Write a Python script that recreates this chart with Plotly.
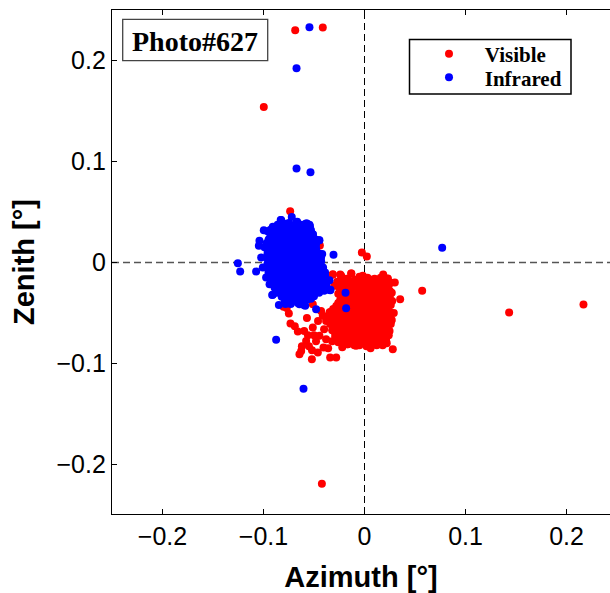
import plotly.graph_objects as go

# ---------------- data (degrees) ----------------
# Visible: dense core block
visible_core_x = [
    -0.024, -0.013, -0.005, 0.003, 0.010, 0.016, 0.023,
    -0.027, -0.021, -0.015, -0.009, -0.003, 0.003, 0.009, 0.015, 0.021, 0.026,
    -0.025, -0.019, -0.013, -0.007, -0.001, 0.005, 0.011, 0.017, 0.023,
    -0.026, -0.020, -0.014, -0.008, -0.002, 0.004, 0.010, 0.016, 0.022, 0.027,
    -0.024, -0.018, -0.012, -0.006, 0.000, 0.006, 0.012, 0.018, 0.024,
    -0.028, -0.022, -0.016, -0.010, -0.004, 0.002, 0.008, 0.014, 0.020, 0.026,
    -0.034, -0.029, -0.023, -0.017, -0.011, -0.005, 0.001, 0.007, 0.013, 0.019, 0.025,
    -0.037, -0.031, -0.025, -0.019, -0.013, -0.007, -0.001, 0.005, 0.011, 0.017, 0.023, 0.027,
    -0.034, -0.028, -0.022, -0.016, -0.010, -0.004, 0.002, 0.008, 0.014, 0.020, 0.026,
    -0.032, -0.026, -0.020, -0.014, -0.008, -0.002, 0.004, 0.010, 0.016, 0.022,
    -0.029, -0.023, -0.017, -0.011, -0.005, 0.001, 0.007, 0.013, 0.019, 0.024,
    -0.026, -0.020, -0.014, -0.008, -0.002, 0.004, 0.010, 0.016, 0.022,
    -0.022, -0.010, 0.002, 0.012,
]
visible_core_y = [
    -0.012, -0.011, -0.014, -0.015, -0.016, -0.015, -0.016,
    -0.019, -0.020, -0.018, -0.021, -0.019, -0.020, -0.018, -0.021, -0.019, -0.020,
    -0.025, -0.024, -0.026, -0.025, -0.023, -0.026, -0.024, -0.025, -0.026,
    -0.031, -0.030, -0.032, -0.031, -0.029, -0.032, -0.030, -0.031, -0.032, -0.030,
    -0.037, -0.036, -0.038, -0.037, -0.035, -0.038, -0.036, -0.037, -0.038,
    -0.043, -0.042, -0.044, -0.043, -0.041, -0.044, -0.042, -0.043, -0.044, -0.042,
    -0.049, -0.048, -0.050, -0.049, -0.047, -0.050, -0.048, -0.049, -0.050, -0.048, -0.049,
    -0.055, -0.054, -0.056, -0.055, -0.053, -0.056, -0.054, -0.055, -0.056, -0.054, -0.055, -0.057,
    -0.061, -0.060, -0.062, -0.061, -0.059, -0.062, -0.060, -0.061, -0.062, -0.060, -0.061,
    -0.067, -0.066, -0.068, -0.067, -0.065, -0.068, -0.066, -0.067, -0.068, -0.066,
    -0.073, -0.072, -0.074, -0.073, -0.071, -0.074, -0.072, -0.073, -0.074, -0.072,
    -0.079, -0.078, -0.080, -0.079, -0.077, -0.080, -0.078, -0.079, -0.080,
    -0.084, -0.082, -0.083, -0.082,
]
# Visible: points between the core rows
visible_fill_x = [
    -0.018, -0.009, -0.001, 0.007, 0.013, 0.020,
    -0.024, -0.018, -0.012, -0.006, 0.000, 0.006, 0.012, 0.018, 0.024,
    -0.022, -0.016, -0.010, -0.004, 0.002, 0.008, 0.014, 0.020, 0.025,
    -0.023, -0.017, -0.011, -0.005, 0.001, 0.007, 0.013, 0.019, 0.025,
    -0.026, -0.020, -0.014, -0.008, -0.002, 0.004, 0.010, 0.016, 0.022,
    -0.031, -0.025, -0.019, -0.013, -0.007, -0.001, 0.005, 0.011, 0.017, 0.023,
    -0.034, -0.028, -0.022, -0.016, -0.010, -0.004, 0.002, 0.008, 0.014, 0.020, 0.025,
    -0.034, -0.028, -0.022, -0.016, -0.010, -0.004, 0.002, 0.008, 0.014, 0.020, 0.025,
    -0.031, -0.025, -0.019, -0.013, -0.007, -0.001, 0.005, 0.011, 0.017, 0.023,
    -0.029, -0.023, -0.017, -0.011, -0.005, 0.001, 0.007, 0.013, 0.019,
    -0.026, -0.020, -0.014, -0.008, -0.002, 0.004, 0.010, 0.016, 0.021,
    -0.017, -0.005, 0.007, 0.018,
]
visible_fill_y = [
    -0.016, -0.017, -0.016, -0.017, -0.018, -0.017,
    -0.022, -0.023, -0.022, -0.021, -0.022, -0.023, -0.022, -0.023, -0.022,
    -0.028, -0.027, -0.028, -0.029, -0.028, -0.027, -0.028, -0.029, -0.028,
    -0.034, -0.035, -0.034, -0.033, -0.034, -0.035, -0.034, -0.033, -0.034,
    -0.040, -0.039, -0.040, -0.041, -0.040, -0.039, -0.040, -0.041, -0.040,
    -0.046, -0.047, -0.046, -0.045, -0.046, -0.047, -0.046, -0.045, -0.046, -0.047,
    -0.052, -0.051, -0.052, -0.053, -0.052, -0.051, -0.052, -0.053, -0.052, -0.051, -0.052,
    -0.058, -0.059, -0.058, -0.057, -0.058, -0.059, -0.058, -0.057, -0.058, -0.059, -0.058,
    -0.064, -0.063, -0.064, -0.065, -0.064, -0.063, -0.064, -0.065, -0.064, -0.063,
    -0.070, -0.071, -0.070, -0.069, -0.070, -0.071, -0.070, -0.069, -0.070,
    -0.076, -0.075, -0.076, -0.077, -0.076, -0.075, -0.076, -0.077, -0.076,
    -0.081, -0.082, -0.081, -0.082,
]
# Visible: ragged edge of the block
visible_edge_x = [0.0248, 0.0264, 0.0274, 0.0215, 0.0132, -0.0083, -0.0165,
                  -0.0231, -0.0132, -0.0017, 0.0290, 0.0060, -0.0300, 0.0185]
visible_edge_y = [-0.0677, -0.0578, -0.0380, -0.0776, -0.0809, -0.0825, -0.0809,
                  -0.0132, -0.0109, -0.0132, -0.0500, -0.0850, -0.0230, -0.0120]
# Visible: lower-left tail
visible_tail_x = [
    -0.0644, -0.0521, -0.0627, -0.0578, -0.0597, -0.0660, -0.0733, -0.0749,
    -0.0802, -0.0462, -0.0340, -0.0280, -0.0406, -0.0446, -0.0512, -0.0413,
    -0.0347, -0.0512, -0.0314, -0.0550, -0.0480, -0.0380, -0.0400, -0.0460,
    -0.0380, -0.0560, -0.0620, -0.0520, -0.0360, -0.0320, -0.0430, -0.0570,
    -0.0500, -0.0690, -0.0770, -0.0314, -0.0230,
]
visible_tail_y = [
    -0.0908, -0.0957, -0.0875, -0.0776, -0.0677, -0.0683, -0.0604, -0.0505,
    -0.0439, -0.0891, -0.0941, -0.0941, -0.0842, -0.0726, -0.0644, -0.0528,
    -0.0495, -0.0413, -0.0116, -0.0830, -0.0780, -0.0760, -0.0660, -0.0580,
    -0.0580, -0.0720, -0.0830, -0.0870, -0.0850, -0.0780, -0.0480, -0.0550,
    -0.0720, -0.0630, -0.0450, -0.0122, -0.0148,
]
# Visible: isolated points
visible_out_x = [-0.0686, -0.0413, -0.0997, -0.0736, -0.0442, -0.0026, 0.0023,
                 0.0571, 0.0353, 0.1432, 0.2168, -0.0422, 0.0280, 0.0300, 0.0230]
visible_out_y = [0.2300, 0.2327, 0.1540, 0.0508, 0.0168, 0.0099, 0.0059,
                 -0.0280, -0.0363, -0.0495, -0.0416, -0.2191, -0.0858, -0.0198, -0.0158]

# Infrared: dense core
infrared_core_x = [
    -0.083, -0.075, -0.067, -0.058,
    -0.089, -0.083, -0.077, -0.071, -0.065, -0.060, -0.054,
    -0.096, -0.090, -0.085, -0.079, -0.073, -0.068, -0.062, -0.056, -0.051,
    -0.094, -0.088, -0.082, -0.077, -0.071, -0.065, -0.059, -0.054, -0.049,
    -0.097, -0.091, -0.086, -0.080, -0.074, -0.069, -0.063, -0.057, -0.051, -0.045,
    -0.099, -0.093, -0.088, -0.082, -0.076, -0.071, -0.065, -0.059, -0.054, -0.048,
    -0.096, -0.090, -0.084, -0.079, -0.073, -0.067, -0.062, -0.056, -0.050, -0.045,
    -0.097, -0.092, -0.086, -0.080, -0.075, -0.069, -0.063, -0.058, -0.052, -0.047, -0.043,
    -0.096, -0.090, -0.084, -0.078, -0.072, -0.066, -0.061, -0.055, -0.049, -0.044,
    -0.097, -0.091, -0.086, -0.080, -0.074, -0.069, -0.063, -0.057, -0.052, -0.046, -0.041,
    -0.095, -0.089, -0.083, -0.077, -0.072, -0.066, -0.060, -0.054, -0.048, -0.043, -0.039,
    -0.094, -0.088, -0.082, -0.076, -0.070, -0.064, -0.058, -0.053, -0.047, -0.041, -0.036,
    -0.091, -0.085, -0.079, -0.073, -0.067, -0.061, -0.055, -0.050, -0.044, -0.038,
    -0.089, -0.083, -0.077, -0.071, -0.065, -0.059, -0.053, -0.047, -0.041, -0.035,
    -0.087, -0.081, -0.075, -0.069, -0.063, -0.057, -0.051, -0.045, -0.040,
    -0.082, -0.076, -0.070, -0.064, -0.058, -0.053,
    -0.079, -0.073, -0.066, -0.060,
]
infrared_core_y = [
    0.042, 0.039, 0.040, 0.038,
    0.034, 0.036, 0.033, 0.037, 0.035, 0.034, 0.036,
    0.031, 0.029, 0.031, 0.030, 0.028, 0.031, 0.029, 0.030, 0.028,
    0.024, 0.026, 0.025, 0.023, 0.026, 0.024, 0.025, 0.026, 0.023,
    0.019, 0.021, 0.020, 0.018, 0.021, 0.019, 0.020, 0.021, 0.019, 0.022,
    0.015, 0.014, 0.016, 0.015, 0.013, 0.016, 0.014, 0.015, 0.016, 0.014,
    0.009, 0.011, 0.010, 0.008, 0.011, 0.010, 0.009, 0.011, 0.010, 0.009,
    0.005, 0.004, 0.006, 0.005, 0.003, 0.006, 0.004, 0.005, 0.006, 0.004, 0.005,
    -0.001, 0.001, 0.000, -0.002, 0.001, 0.000, -0.001, 0.001, 0.000, -0.001,
    -0.005, -0.004, -0.006, -0.005, -0.003, -0.006, -0.004, -0.005, -0.006, -0.004, -0.005,
    -0.010, -0.011, -0.009, -0.010, -0.012, -0.009, -0.011, -0.010, -0.009, -0.011, -0.010,
    -0.015, -0.016, -0.014, -0.015, -0.017, -0.014, -0.016, -0.015, -0.014, -0.016, -0.018,
    -0.020, -0.021, -0.019, -0.020, -0.022, -0.019, -0.021, -0.020, -0.019, -0.022,
    -0.025, -0.024, -0.026, -0.025, -0.023, -0.026, -0.024, -0.025, -0.026, -0.027,
    -0.030, -0.031, -0.029, -0.030, -0.032, -0.029, -0.031, -0.030, -0.028,
    -0.034, -0.036, -0.035, -0.037, -0.034, -0.036,
    -0.039, -0.041, -0.040, -0.042,
]
# Infrared: points between the core rows
infrared_fill_x = [
    -0.086, -0.080, -0.074, -0.068, -0.062, -0.057,
    -0.093, -0.087, -0.081, -0.075, -0.069, -0.063, -0.058, -0.053,
    -0.092, -0.086, -0.080, -0.074, -0.068, -0.062, -0.057, -0.052,
    -0.095, -0.089, -0.083, -0.077, -0.071, -0.065, -0.059, -0.053, -0.048,
    -0.096, -0.090, -0.084, -0.078, -0.072, -0.066, -0.060, -0.054, -0.048,
    -0.096, -0.090, -0.084, -0.078, -0.072, -0.066, -0.060, -0.054, -0.048,
    -0.094, -0.088, -0.082, -0.076, -0.070, -0.064, -0.058, -0.052, -0.047,
    -0.094, -0.088, -0.082, -0.076, -0.070, -0.064, -0.058, -0.052, -0.046,
    -0.093, -0.087, -0.081, -0.075, -0.069, -0.063, -0.058, -0.052, -0.046,
    -0.094, -0.088, -0.082, -0.076, -0.070, -0.064, -0.058, -0.052, -0.046, -0.041,
    -0.092, -0.086, -0.080, -0.074, -0.068, -0.062, -0.056, -0.050, -0.044, -0.039,
    -0.090, -0.084, -0.078, -0.072, -0.066, -0.060, -0.054, -0.048, -0.042,
    -0.087, -0.081, -0.075, -0.069, -0.063, -0.057, -0.051, -0.045, -0.039,
    -0.085, -0.079, -0.073, -0.067, -0.061, -0.055, -0.049, -0.043,
    -0.080, -0.074, -0.068, -0.062, -0.056, -0.050,
    -0.076, -0.069, -0.063, -0.057,
]
infrared_fill_y = [
    0.0375, 0.0385, 0.0370, 0.0380, 0.0375, 0.0385,
    0.0325, 0.0315, 0.0330, 0.0320, 0.0325, 0.0315, 0.0330, 0.0320,
    0.0275, 0.0285, 0.0270, 0.0280, 0.0275, 0.0285, 0.0270, 0.0280,
    0.0225, 0.0215, 0.0230, 0.0220, 0.0225, 0.0215, 0.0230, 0.0220, 0.0225,
    0.0175, 0.0185, 0.0170, 0.0180, 0.0175, 0.0185, 0.0170, 0.0180, 0.0175,
    0.0125, 0.0115, 0.0130, 0.0120, 0.0125, 0.0115, 0.0130, 0.0120, 0.0125,
    0.0075, 0.0085, 0.0070, 0.0080, 0.0075, 0.0085, 0.0070, 0.0080, 0.0075,
    0.0025, 0.0015, 0.0030, 0.0020, 0.0025, 0.0015, 0.0030, 0.0020, 0.0025,
    -0.0025, -0.0035, -0.0020, -0.0030, -0.0025, -0.0035, -0.0020, -0.0030, -0.0025,
    -0.0075, -0.0065, -0.0080, -0.0070, -0.0075, -0.0065, -0.0080, -0.0070, -0.0075, -0.0070,
    -0.0125, -0.0135, -0.0120, -0.0130, -0.0125, -0.0135, -0.0120, -0.0130, -0.0125, -0.0130,
    -0.0175, -0.0165, -0.0180, -0.0170, -0.0175, -0.0165, -0.0180, -0.0170, -0.0175,
    -0.0225, -0.0235, -0.0220, -0.0230, -0.0225, -0.0235, -0.0220, -0.0230, -0.0225,
    -0.0275, -0.0265, -0.0280, -0.0270, -0.0275, -0.0265, -0.0280, -0.0270,
    -0.0325, -0.0335, -0.0320, -0.0330, -0.0325, -0.0335,
    -0.0375, -0.0365, -0.0380, -0.0370,
]
# Infrared: ragged edge of the cluster
infrared_edge_x = [-0.0825, -0.0667, -0.0578, -0.0545, -0.0908, -0.0446, -0.0512,
                   -0.0419, -0.0429, -0.0413, -0.0347, -0.0340, -0.0380, -0.0545,
                   -0.0587, -0.0644, -0.0776, -0.0908, -0.0940, -0.0974, -0.1007,
                   -0.1023, -0.1040, -0.0337, -0.0914, -0.0782, -0.0577, -0.0720]
infrared_edge_y = [0.0422, 0.0403, 0.0386, 0.0373, 0.0353, 0.0221, 0.0274,
                   0.0083, 0.0010, -0.0066, -0.0175, -0.0274, -0.0230, -0.0353,
                   -0.0429, -0.0413, -0.0396, -0.0320, -0.0215, -0.0149, -0.0050,
                   0.0050, 0.0215, -0.0270, -0.0323, -0.0412, -0.0330, 0.0450]
# Infrared: isolated points
infrared_out_x = [-0.0545, -0.0673, -0.0673, -0.0535, 0.0769, -0.1254, -0.1231,
                  -0.1073, -0.0307, -0.0188, -0.0182, -0.0479, -0.0875, -0.0604,
                  -0.0848, -0.0997, -0.1046]
infrared_out_y = [0.2330, 0.1924, 0.0931, 0.0894, 0.0145, -0.0007, -0.0089,
                  -0.0089, 0.0076, -0.0300, -0.0452, -0.0462, -0.0766, -0.1251,
                  -0.0420, 0.0320, 0.0165]

x_ticks = [-0.2, -0.1, 0, 0.1, 0.2]
y_ticks = [-0.2, -0.1, 0, 0.1, 0.2]
x_tick_text = ["\u22120.2", "\u22120.1", "0", "0.1", "0.2"]
y_tick_text = ["\u22120.2", "\u22120.1", "0", "0.1", "0.2"]

series_names = ["Visible", "Infrared"]
series_colors = ["#ff0000", "#0000ff"]
photo_label = "Photo#627"

# ---------------- figure ----------------
W, H = 610, 593
ML, MR, MT, MB = 112, 0, 10, 79
MSIZE = 8

fig = go.Figure()
nbsp = "\u00a0" * 3
fig.add_trace(go.Scatter(
    x=visible_core_x + visible_fill_x + visible_edge_x + visible_tail_x + visible_out_x,
    y=visible_core_y + visible_fill_y + visible_edge_y + visible_tail_y + visible_out_y,
    mode="markers", name=nbsp + series_names[0], legend="legend",
    marker=dict(color=series_colors[0], size=MSIZE, line=dict(width=0)),
))
fig.add_trace(go.Scatter(
    x=infrared_core_x + infrared_fill_x + infrared_edge_x + infrared_out_x,
    y=infrared_core_y + infrared_fill_y + infrared_edge_y + infrared_out_y,
    mode="markers", name=nbsp + series_names[1], legend="legend2",
    marker=dict(color=series_colors[1], size=MSIZE, line=dict(width=0)),
))

# zero reference lines
fig.add_vline(x=0, line=dict(color="black", width=1, dash="7px,4px"), layer="below")
fig.add_hline(y=0, line=dict(color="#555555", width=1.3, dash="7px,4px"), layer="below")

pw = W - ML - MR
ph = H - MT - MB

def px2paper_x(p):
    return (p - ML) / pw

def px2paper_y(p):
    return 1 - (p - MT) / ph

# Photo label box
fig.add_shape(type="rect", xref="paper", yref="paper",
              x0=px2paper_x(122.7), x1=px2paper_x(267.7),
              y0=px2paper_y(60.7), y1=px2paper_y(19.3),
              line=dict(color="#444444", width=1.3), fillcolor="white", layer="above")
fig.add_annotation(xref="paper", yref="paper",
                   x=px2paper_x(195.2), y=px2paper_y(41.5),
                   text="<b>" + photo_label + "</b>", showarrow=False,
                   xanchor="center", yanchor="middle",
                   font=dict(family="Liberation Serif", size=28, color="black"))

# legend frame
fig.add_shape(type="rect", xref="paper", yref="paper",
              x0=px2paper_x(409.5), x1=px2paper_x(571),
              y0=px2paper_y(94), y1=px2paper_y(39.5),
              line=dict(color="black", width=1.5), fillcolor="white", layer="below")

axis_common = dict(
    showgrid=False, zeroline=False,
    showline=True, linecolor="black", linewidth=1.3,
    ticks="inside", ticklen=5, tickwidth=1, tickcolor="black",
    tickfont=dict(family="Liberation Sans", size=25, color="black"),
)

fig.update_xaxes(
    **axis_common,
    range=[-0.25, -0.25 + pw / 1010.0],
    tickvals=x_ticks, ticktext=x_tick_text,
    mirror="ticks",
    title=dict(text="<b>Azimuth [°]</b>", standoff=21,
               font=dict(family="Liberation Sans", size=29, color="black")),
)
fig.update_yaxes(
    **axis_common,
    range=[0.25 - ph / 1010.0, 0.25],
    tickvals=y_ticks, ticktext=y_tick_text,
    mirror=False,
    title=dict(text="<b>Zenith [°]</b>", standoff=13,
               font=dict(family="Liberation Sans", size=29, color="black")),
)

leg_common = dict(
    xanchor="left", yanchor="top",
    bgcolor="rgba(0,0,0,0)", borderwidth=0,
    font=dict(family="Liberation Serif", size=21, color="black", weight="bold"),
    indentation=20, itemwidth=30,
)

fig.update_layout(
    width=W, height=H,
    margin=dict(l=ML, r=MR, t=MT, b=MB, pad=0, autoexpand=False),
    plot_bgcolor="white", paper_bgcolor="white",
    showlegend=True,
    legend=dict(x=px2paper_x(409), y=px2paper_y(33.5), **leg_common),
    legend2=dict(x=px2paper_x(409), y=px2paper_y(57.2), **leg_common),
)

fig.write_html("out.html")
